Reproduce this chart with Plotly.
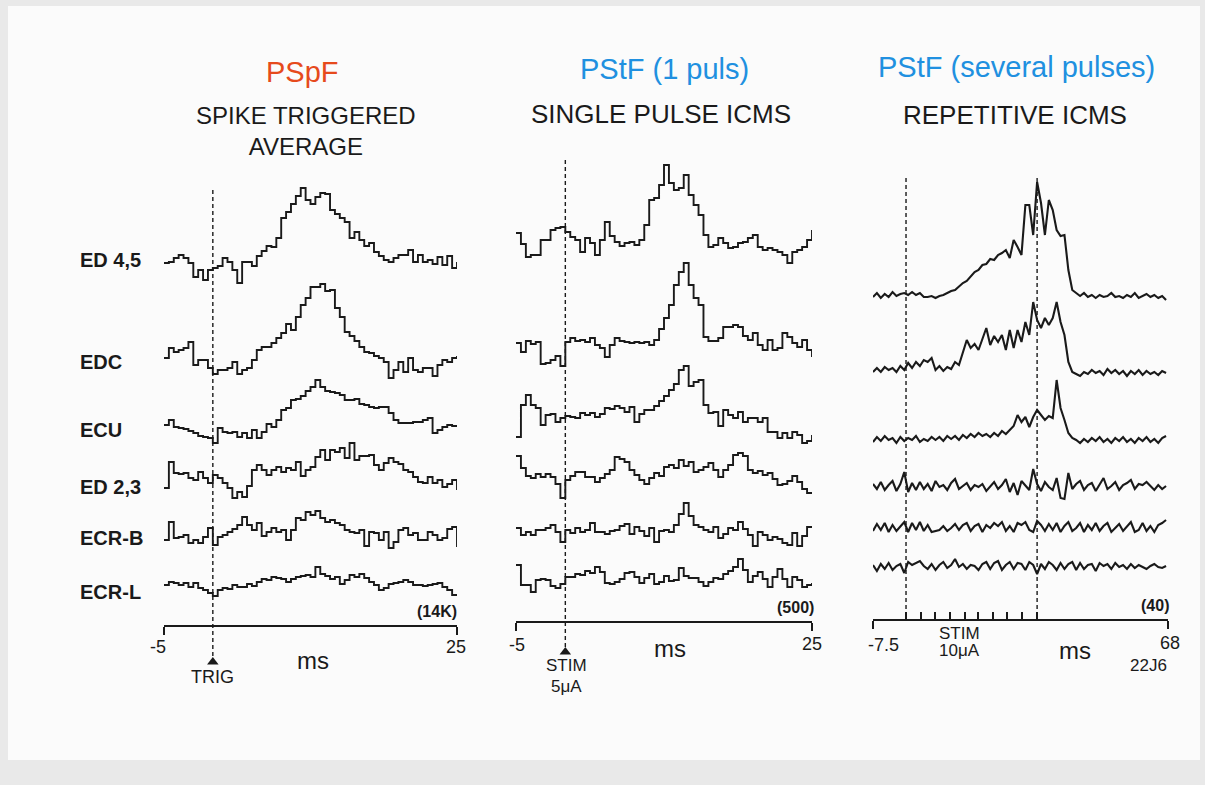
import numpy as np
import plotly.graph_objects as go

# ---------------- DATA ----------------
MUSCLES = ["ED 4,5", "EDC", "ECU", "ED 2,3", "ECR-B", "ECR-L"]

# Panel 1: spike-triggered average, -5..25 ms, 0.5 ms bins
T1 = np.arange(-5, 25.01, 0.5)
P1_ED45 = [-1, 0, 4, 7, 4, -1, -15, -8, -18, -8, -6, -4, 4, 0, -8, -21, 0, 0, -4, 6, 11, 16, 15, 24, 44, 50, 58, 66, 74, 62, 58, 65, 69, 68, 52, 48, 44, 40, 24, 30, 22, 16, 19, 10, 6, 2, 0, 4, 7, 7, 12, 0, 7, 0, 2, -2, 5, -3, 6, -6, 0]
P1_EDC = [2, 12, 8, 10, 12, 18, -5, 0, 0, -8, -14, -10, -10, -8, -2, -14, -10, -8, 0, 10, 13, 13, 17, 22, 27, 36, 30, 43, 55, 62, 73, 73, 76, 69, 70, 52, 43, 28, 24, 19, 13, 8, 7, 4, 2, -2, -18, -10, -2, -12, 2, -10, -12, -8, -8, -16, -5, 0, -2, 2, 4]
P1_ECU = [3, 8, 1, 0, -1, -3, -5, -8, -9, -10, -15, 0, -4, -5, -4, -9, -5, -10, -2, -10, -4, 4, 1, 8, 18, 20, 28, 29, 32, 37, 41, 48, 41, 37, 36, 35, 33, 28, 28, 29, 24, 23, 21, 20, 21, 21, 15, 8, 5, 5, 5, 6, 6, 8, 10, -5, -2, 1, 3, 2, 1]
P1_ED23 = [-10, 16, 5, 4, 5, 0, -2, 6, 0, -5, 3, 0, -5, -10, -20, -14, -19, -8, 8, 13, 8, 3, 8, 11, 6, 10, 8, 16, 2, 8, 11, 21, 28, 18, 28, 26, 30, 20, 35, 18, 22, 22, 23, 13, 8, 15, 20, 16, 14, 8, 6, 1, -4, -5, 1, -5, -2, -9, -6, -2, -12]
P1_ECRB = [-5, 13, -3, -2, 0, -8, -5, -8, -2, 7, -10, -2, 0, 3, 6, 10, 18, 10, 5, 12, -1, 3, 7, 3, 5, -5, 5, 17, 15, 23, 20, 24, 17, 13, 15, 12, 10, 5, 3, 2, 5, -11, 3, 2, -5, 3, -13, -7, 5, 7, 0, 2, -5, -5, 3, 0, -5, -3, 6, 8, -12]
P1_ECRL = [-1, 2, 1, -1, 1, -3, 1, -4, -6, -9, -12, -6, -4, -5, -1, -3, -3, 0, -2, 2, 5, 4, 7, 6, 5, 2, 5, 7, 8, 9, 7, 17, 10, 8, 5, 7, 0, 4, 9, 7, 10, 6, 2, -1, -6, -4, 0, 1, 2, 4, 2, -1, -1, -2, -1, 0, 1, -3, -6, -11, -11]

# Panel 2: single pulse ICMS, -5..25 ms, 0.5 ms bins
T2 = np.arange(-5, 25.01, 0.5)
P2_ED45 = [10, -1, -14, -12, -12, 3, 3, 13, 15, 16, 11, 6, 3, -9, 5, 0, -12, 3, 21, 7, 1, -3, 0, 1, -2, 3, 18, 43, 45, 58, 78, 60, 53, 55, 68, 48, 38, 28, 8, -4, -2, 5, 0, -5, -4, 0, 1, 5, 8, -4, -7, -5, -7, -9, -12, -20, -9, -7, -4, 3, 13]
P2_EDC = [0, -9, 2, -1, 1, -21, -20, -17, -13, -23, 1, 5, 2, 3, 1, 5, -2, -5, -14, -2, 5, 2, 1, 0, 1, 0, 1, -2, 3, 14, 25, 38, 58, 71, 80, 58, 45, 38, 6, 2, 2, 5, 16, 16, 18, 16, 7, 3, 10, -2, -7, 3, -7, -5, 10, 6, 0, -4, 3, -7, -14]
P2_ECU = [-22, 10, 20, 10, 7, -10, 0, 1, -7, -3, -1, -2, -3, 2, 0, 2, -2, 1, 7, 6, 9, 7, 3, 8, -7, 1, 5, 5, 9, 14, 19, 25, 31, 45, 49, 29, 33, 35, 10, 2, 3, -11, 5, 0, -3, 3, -7, -3, -3, -7, -3, -17, -17, -23, -18, -23, -17, -20, -28, -26, -20]
P2_ED23 = [19, 7, -1, -3, 1, -2, 1, -2, -9, -23, -5, -1, 3, 3, -2, -2, -7, -3, 1, 5, 18, 16, 13, 5, 0, -5, -9, -3, 2, -1, 8, 10, 7, 15, 9, 13, 3, 5, 8, 12, 5, -2, 5, 10, 20, 22, 19, 5, 2, 4, 0, 2, -4, -10, -9, -6, -1, -7, -14, -18, -17]
P2_ECRB = [3, -4, -1, -4, 1, 1, 3, 6, -1, -11, 1, -2, 3, -1, 1, 8, -1, -1, -3, 0, 1, 5, 7, -3, 4, 0, -5, 3, -11, 0, 1, -1, 6, 17, 28, 15, 6, 4, 1, -1, 4, -7, -3, 3, 1, 9, 2, -4, -15, -1, -4, -9, -6, -8, -12, -14, -2, -15, -5, 4, 3]
P2_ECRL = [13, -7, -7, -14, -2, -1, -2, -8, -10, -6, 1, 1, 4, 3, 7, 5, 11, 6, -5, -6, -4, -1, 5, 6, 1, -5, 0, 4, -6, -4, 2, -3, -2, 10, 2, 0, 0, -4, -8, -4, 0, -1, 4, 7, 11, 19, 8, -4, 2, 6, -1, -9, 1, 9, -1, -9, 1, -2, -9, -7, -5]

# Panel 3: repetitive ICMS, -7.5..67.5 ms, 1 ms bins
T3 = np.arange(-7.5, 67.51, 1.0)
P3_ED45 = [-1, 3, -2, 2, -1, 4, 0, 2, 3, 1, 4, 1, 3, -1, -1, 0, -2, 0, 1, 3, 5, 6, 10, 13, 15, 20, 24, 26, 31, 32, 37, 36, 41, 43, 46, 38, 56, 49, 41, 91, 91, 61, 114, 93, 61, 96, 86, 66, 60, 61, 26, 6, 3, 0, 3, -1, 1, -2, 1, -1, 0, 3, -1, 0, -2, 1, -1, 3, -2, 0, 2, -1, 1, -2, 0, -4]
P3_EDC = [-2, 2, -2, 3, 0, 2, -2, 4, 0, 7, 2, 8, 4, 10, 8, 12, 0, 4, -1, 3, 1, 8, 5, 18, 30, 22, 26, 20, 30, 42, 25, 34, 28, 35, 20, 40, 22, 40, 28, 48, 35, 68, 50, 42, 52, 45, 52, 68, 48, 35, 8, -2, -4, -6, -2, -4, 0, -3, -1, -5, 1, -3, 0, -4, -1, -6, -1, -4, 0, -5, -1, -4, -2, -5, -1, -3]
P3_ECU = [-2, 3, -1, 4, 0, 2, -3, 3, -1, 2, 0, 4, -2, 1, -1, 3, 0, 3, -1, 4, 1, 4, 0, 5, 2, 6, 3, 7, 4, 6, 3, 7, 4, 9, 6, 10, 14, 25, 18, 23, 13, 23, 30, 25, 20, 24, 22, 60, 32, 20, 7, 2, 0, -3, 1, -2, 2, -1, 3, -2, 1, -3, 2, -1, 3, -2, 1, -3, 2, -1, 3, -2, 1, -3, 2, 4]
P3_ED23 = [3, -2, 5, -3, 2, 6, -4, 3, 15, -5, 4, -3, 5, -2, 3, -4, 6, 0, 2, -3, 4, 8, -2, 1, 4, -3, 2, 0, 3, -4, 1, 5, -2, 2, 8, -5, 4, -8, 6, 2, -3, 18, 3, -4, 5, 0, -3, 9, -11, -12, 14, -2, 3, 6, -3, 2, 4, -4, 3, 9, -2, 1, 5, -3, 2, 4, 7, -2, 3, 2, 5, 1, -3, 2, -2, 1]
P3_ECRB = [-3, 4, -2, 5, -4, 3, -3, 2, 6, -4, 5, -2, 6, -3, 3, -4, -3, -2, 2, -3, 0, 4, -2, 3, 5, -3, 2, 4, -4, 3, 0, 5, 2, 6, -3, 2, -4, 5, 3, 6, -2, -4, 7, 3, -3, 4, -2, 5, -4, 2, 6, -3, 0, 5, -4, 3, -2, 5, -3, 2, 5, -4, 0, 4, -3, 2, 6, -4, -2, 5, -3, 2, -4, 3, 5, 8]
P3_ECRL = [2, -4, 3, -2, 4, -3, 1, 3, -6, 5, 2, 4, 6, 1, -2, 3, -3, 2, 5, -1, 2, 8, 0, 3, -2, 2, 1, -3, 3, 5, -2, 4, 6, -3, 2, 5, -2, 4, 3, -3, 5, 2, -7, 3, -2, 5, 2, -3, 4, -2, 3, 5, -3, 4, -2, 2, 3, -4, 4, 1, 3, -2, 4, 0, 2, -2, 3, -1, 2, 0, -2, 1, 3, 0, -1, 1]

STIM_TIMES_P3 = [0.95, 4.67, 8.4, 12.2, 16.0, 19.4, 23.2, 26.8, 30.7, 34.5]

TITLES = ["PSpF", "PStF (1 puls)", "PStF (several pulses)"]
COUNTS = ["(14K)", "(500)", "(40)"]

# ---------------- LAYOUT CONSTANTS ----------------
W, H = 1205, 785
INK = "#1a1a1a"
ROW_BASE = {
    1: [262, 360, 428, 478, 535, 584],
    2: [243, 343, 415, 475, 531, 578],
    3: [296, 370, 440, 487, 528, 567],
}
AXIS_Y = {1: 626, 2: 622, 3: 620}
X_DOM = {1: (164, 457), 2: (516, 812), 3: (873, 1168)}
X_RNG = {1: (-5, 25), 2: (-5, 25), 3: (-7.5, 68)}

fig = go.Figure()

panels = {
    1: (T1, [P1_ED45, P1_EDC, P1_ECU, P1_ED23, P1_ECRB, P1_ECRL], "hv", 1.9),
    2: (T2, [P2_ED45, P2_EDC, P2_ECU, P2_ED23, P2_ECRB, P2_ECRL], "hv", 1.9),
    3: (T3, [P3_ED45, P3_EDC, P3_ECU, P3_ED23, P3_ECRB, P3_ECRL], "linear", 2.1),
}
for p, (t, series, shape, lw) in panels.items():
    xa = "x" if p == 1 else f"x{p}"
    for r, vals in enumerate(series):
        base = ROW_BASE[p][r]
        y = [-base + v for v in vals]
        fig.add_trace(go.Scatter(x=t, y=y, xaxis=xa, yaxis="y", mode="lines",
                                 line=dict(color=INK, width=lw, shape=shape),
                                 hoverinfo="skip", showlegend=False))

# trigger / stim markers (triangles)
fig.add_trace(go.Scatter(x=[0], y=[-662], xaxis="x", yaxis="y", mode="markers",
                         marker=dict(symbol="triangle-up", size=10, color=INK),
                         showlegend=False, hoverinfo="skip", cliponaxis=False))
fig.add_trace(go.Scatter(x=[0], y=[-652], xaxis="x2", yaxis="y", mode="markers",
                         marker=dict(symbol="triangle-up", size=10, color=INK),
                         showlegend=False, hoverinfo="skip", cliponaxis=False))

def xaxis_cfg(p, tickvals, minor=None):
    d = dict(domain=[X_DOM[p][0] / W, X_DOM[p][1] / W], range=list(X_RNG[p]),
             anchor="free", position=1 - AXIS_Y[p] / H, showline=True,
             linecolor=INK, linewidth=1.8, ticks="outside", tickvals=tickvals,
             ticklen=8, tickwidth=1.8, tickcolor=INK, showticklabels=False,
             showgrid=False, zeroline=False, fixedrange=True)
    if minor:
        d["minor"] = minor
    return d

DASH = dict(color=INK, width=1.4, dash="4px,3px")
shapes = [
    dict(type="rect", xref="paper", yref="paper", x0=0, x1=1, y0=0, y1=1,
         fillcolor="#e9e9e9", line=dict(width=0), layer="below"),
    dict(type="rect", xref="paper", yref="paper", x0=8 / W, x1=1200 / W,
         y0=1 - 760 / H, y1=1 - 6 / H, fillcolor="#fbfbfb", line=dict(width=0), layer="below"),
    dict(type="line", xref="x", yref="y", x0=0, x1=0, y0=-190, y1=-658, line=DASH),
    dict(type="line", xref="x2", yref="y", x0=0, x1=0, y0=-160, y1=-648, line=DASH),
    dict(type="line", xref="x3", yref="y", x0=STIM_TIMES_P3[0], x1=STIM_TIMES_P3[0],
         y0=-178, y1=-618, line=DASH),
    dict(type="line", xref="x3", yref="y", x0=STIM_TIMES_P3[-1], x1=STIM_TIMES_P3[-1],
         y0=-178, y1=-618, line=DASH),
]

FONT = "Liberation Sans, Arial, sans-serif"
ann = []
def txt(s, x, y, size, color=INK, xanchor="center", bold=False):
    ann.append(dict(text=(f"<b>{s}</b>" if bold else s), x=x / W, y=1 - y / H,
                    xref="paper", yref="paper", showarrow=False, xanchor=xanchor,
                    yanchor="middle", font=dict(family=FONT, size=size, color=color)))

txt(TITLES[0], 302, 72, 29, color="#e64a1c")
txt(TITLES[1], 664, 69, 29, color="#2090e0")
txt(TITLES[2], 1016, 67, 29, color="#2090e0")
txt("SPIKE TRIGGERED<br>AVERAGE", 306, 131, 24)
txt("SINGLE PULSE ICMS", 661, 114, 26)
txt("REPETITIVE ICMS", 1015, 115, 26)
for name, yy in zip(MUSCLES, [260, 362, 430, 487, 538, 592]):
    txt(name, 78, yy, 20, xanchor="left", bold=True)
txt(COUNTS[0], 437, 611, 16, bold=True)
txt(COUNTS[1], 795, 607, 16, bold=True)
txt(COUNTS[2], 1155, 605, 16, bold=True)
txt("-5", 158, 647, 18)
txt("25", 456, 647, 18)
txt("-5", 517, 645, 18)
txt("25", 812, 644, 18)
txt("-7.5", 884, 645, 18)
txt("68", 1170, 643, 18)
txt("ms", 313, 660, 24)
txt("ms", 670, 648, 24)
txt("ms", 1075, 650, 24)
txt("TRIG", 212, 677, 18)
txt("STIM", 566, 665, 17)
txt("5μA", 566, 686, 17)
txt("STIM", 960, 633, 17)
txt("10μA", 960, 650, 17)
txt("22J6", 1148, 665, 17)

fig.update_layout(
    width=W, height=H, margin=dict(l=0, r=0, t=0, b=0, pad=0),
    paper_bgcolor="#fbfbfb", plot_bgcolor="rgba(0,0,0,0)",
    xaxis=xaxis_cfg(1, [-5, 25]),
    xaxis2=xaxis_cfg(2, [-5, 25]),
    xaxis3=xaxis_cfg(3, [-7.5, 68],
                     minor=dict(tickvals=STIM_TIMES_P3, ticks="inside", ticklen=7,
                                tickwidth=1.5, tickcolor=INK, showgrid=False)),
    yaxis=dict(domain=[0, 1], range=[-H, 0], visible=False, fixedrange=True),
    shapes=shapes, annotations=ann, showlegend=False,
)

fig.write_html("out.html")
